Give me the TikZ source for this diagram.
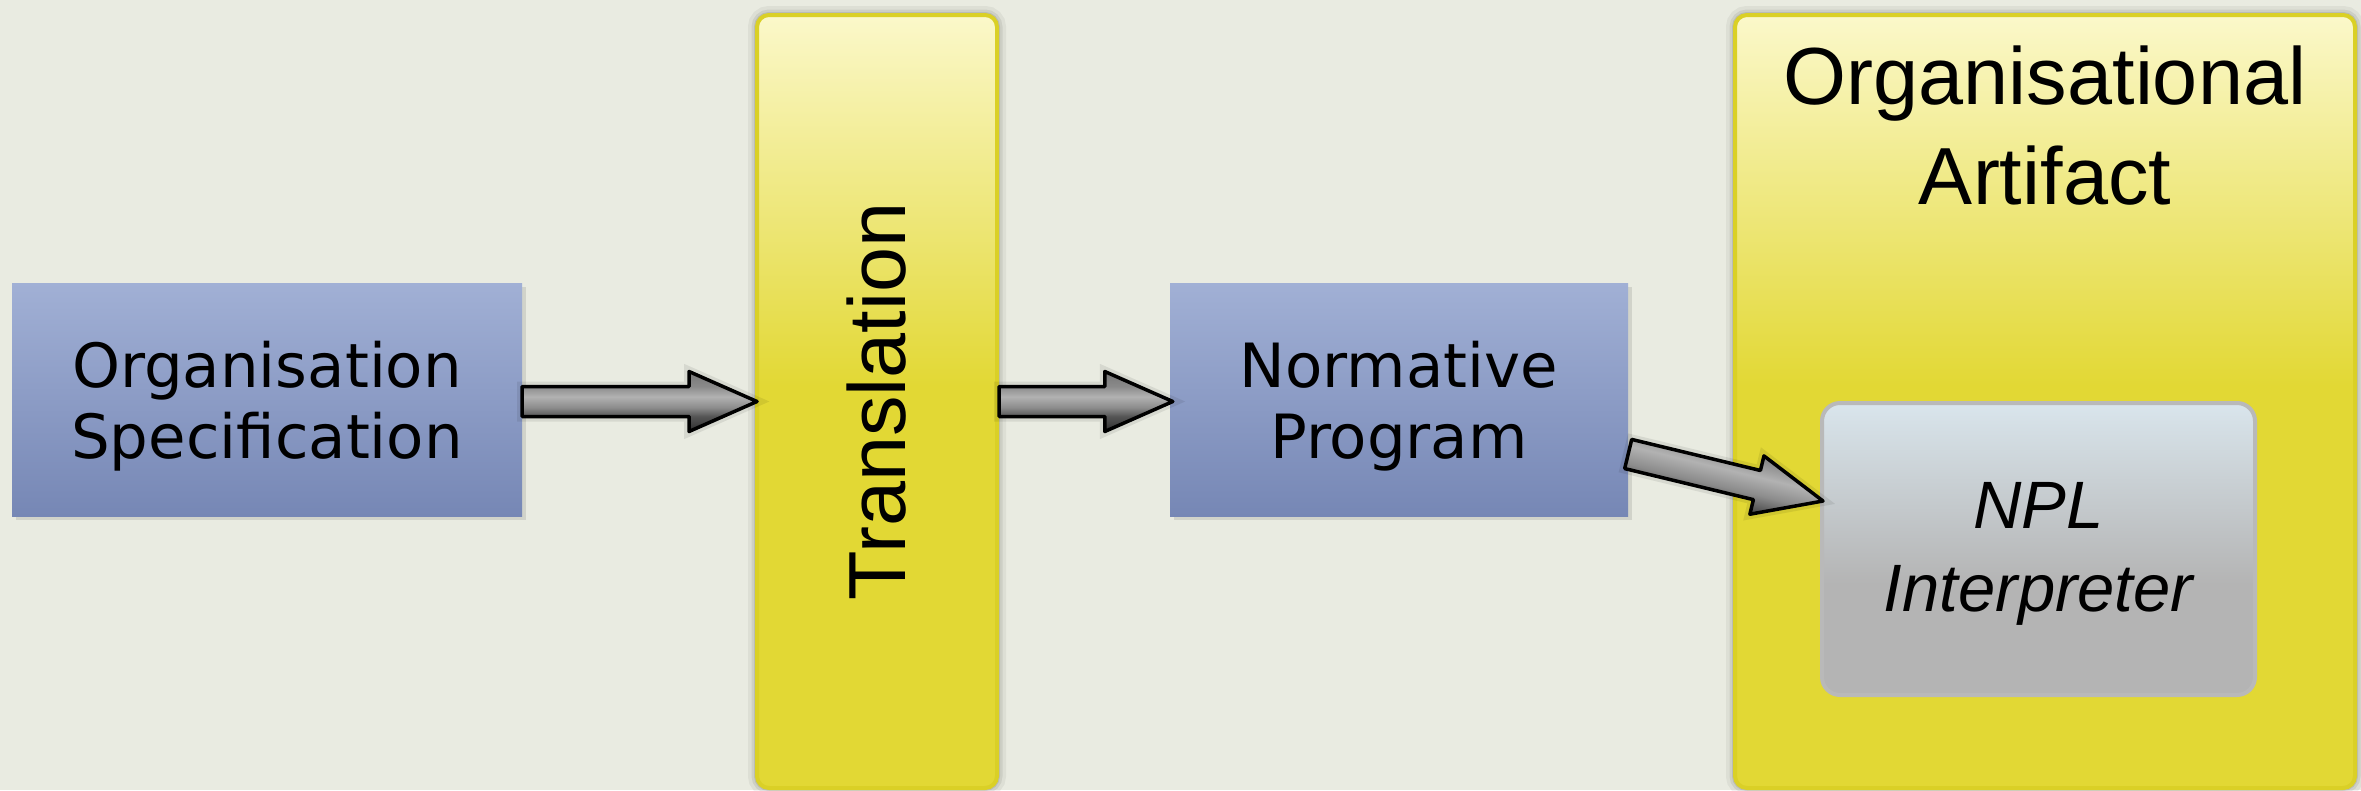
\documentclass[tikz,border=0pt]{standalone}
\usepackage{fontspec}
\usepackage{graphicx}
\usetikzlibrary{calc}

\newfontfamily\boxsans{DejaVu Sans}
\newfontfamily\artsans{Liberation Sans}

% palette
\definecolor{paper}{RGB}{233,235,225}
\definecolor{bluetop}{RGB}{161,176,213}
\definecolor{bluebot}{RGB}{118,135,181}
\definecolor{ylwbase}{RGB}{226,216,52}
\definecolor{ylwpale}{RGB}{251,248,202}
\definecolor{ylwedge}{RGB}{218,208,38}
\definecolor{npltop}{RGB}{217,229,236}
\definecolor{nplbot}{RGB}{180,180,180}
\definecolor{npledge}{RGB}{185,185,185}
\definecolor{arrA}{RGB}{118,118,118}
\definecolor{arrB}{RGB}{138,138,138}
\definecolor{arrC}{RGB}{178,178,178}
\definecolor{arrD}{RGB}{140,140,140}
\definecolor{arrE}{RGB}{84,84,84}
\definecolor{arrF}{RGB}{46,46,46}

% pale top fading into a solid lower half
\pgfdeclareverticalshading{yellowfade}{100bp}{color(0bp)=(ylwbase); color(51bp)=(ylwbase); color(75bp)=(ylwpale); color(100bp)=(ylwpale)}
\pgfdeclareverticalshading{grayfade}{100bp}{color(0bp)=(nplbot); color(44bp)=(nplbot); color(75bp)=(npltop); color(100bp)=(npltop)}
% metallic band across the block arrows
\pgfdeclareverticalshading{arrowfade}{100bp}{color(0bp)=(arrF); color(25bp)=(arrF); color(37.5bp)=(arrE); color(45bp)=(arrD); color(54bp)=(arrC); color(62.5bp)=(arrB); color(75bp)=(arrA); color(100bp)=(arrA)}

\tikzset{
  bluebox/.style={rectangle, draw=none, inner sep=0pt,
    top color=bluetop, bottom color=bluebot,
    preaction={fill=black, fill opacity=0.10, transform canvas={xshift=4pt, yshift=-4pt}},
    font=\boxsans\fontsize{61}{71}\selectfont, align=center, text depth=0pt},
  yellowbox/.style={rectangle, rounded corners=12pt, draw=ylwedge, line width=4pt,
    shade, shading=yellowfade, inner sep=0pt,
    preaction={draw=black, draw opacity=0.05, line width=18pt},
    preaction={draw=black, draw opacity=0.07, line width=11pt},
    preaction={draw=black, draw opacity=0.09, line width=6pt},
    font=\artsans\fontsize{81}{100}\selectfont},
  titletext/.style={inner sep=0pt, align=center, font=\artsans\fontsize{81}{100}\selectfont},
  nplbox/.style={rectangle, rounded corners=18pt, draw=npledge, line width=4pt,
    shade, shading=grayfade, inner sep=0pt, align=center,
    font=\artsans\itshape\fontsize{67}{83}\selectfont, text depth=5pt},
  arrowbody/.style={draw=black, line width=3.5pt, line join=round,
    shade, shading=arrowfade,
    preaction={draw=black, draw opacity=0.08, line width=10pt}}
}

% block arrow from tail #2 to tip #3; #1 names its head base, #4 turns the shading
\newcommand{\fatarrow}[4]{%
  \coordinate (#1-hb) at ($(#3)!68pt!(#2)$);
  \path[arrowbody, shading angle=#4]
    ($(#2)!15pt!90:(#3)$) -- ($(#1-hb)!15pt!90:(#3)$) -- ($(#1-hb)!30pt!90:(#3)$)
    -- (#3)
    -- ($(#1-hb)!30pt!-90:(#3)$) -- ($(#1-hb)!15pt!-90:(#3)$) -- ($(#2)!15pt!-90:(#3)$)
    -- cycle;
}

\begin{document}
\begin{tikzpicture}[x=1pt, y=-1pt]
  \fill[paper] (0,0) rectangle (2361,790);
  \useasboundingbox (0,0) rectangle (2361,790);

  % blocks
  \node[bluebox, minimum width=510pt, minimum height=233pt] (os) at (267,399.5)
    {Organisation\\Specification};
  \node[yellowbox, minimum width=240pt, minimum height=773pt] (tr) at (877,401.5)
    {\rotatebox{90}{Translation}};
  \node[bluebox, minimum width=458pt, minimum height=233pt] (np) at (1399,399.5)
    {Normative\\Program};
  \node[yellowbox, minimum width=620pt, minimum height=773pt] (oa) at (2045,401.5) {};
  \node[titletext, anchor=north] (oat) at ([yshift=-33pt]oa.north)
    {Organisational\\Artifact};
  \node[nplbox, minimum width=433pt, minimum height=292pt] (npl) at (2038.5,549)
    {NPL\\Interpreter};

  % connectors
  \coordinate (a1-s) at (os.east |- tr.west);
  \coordinate (a1-e) at ([xshift=2pt]tr.west);
  \coordinate (a2-s) at (tr.east);
  \coordinate (a2-e) at ([xshift=3pt]np.west |- tr.east);
  \coordinate (a3-s) at ([yshift=-54.5pt]np.east);
  \coordinate (a3-e) at ([xshift=3pt, yshift=48pt]npl.west);
  \fatarrow{a1}{a1-s}{a1-e}{0}
  \fatarrow{a2}{a2-s}{a2-e}{0}
  \fatarrow{a3}{a3-s}{a3-e}{-13.6}
\end{tikzpicture}
\end{document}
